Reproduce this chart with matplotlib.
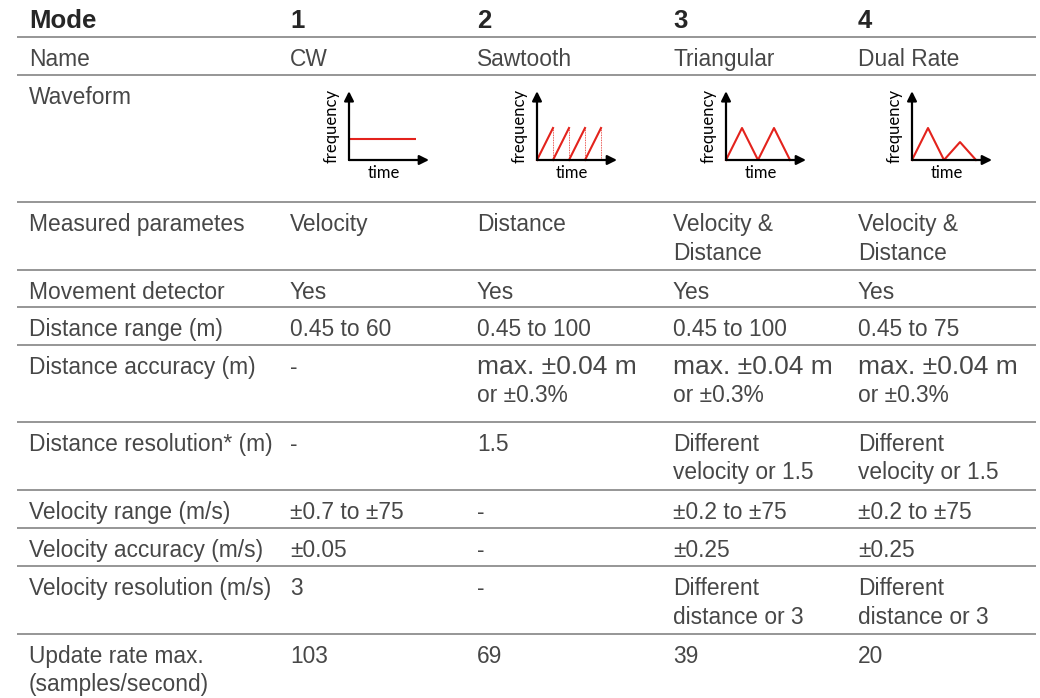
import matplotlib
matplotlib.use("Agg")
import matplotlib.pyplot as plt

# ---------------- data ----------------
header = ["Mode", "1", "2", "3", "4"]
row_labels = [
    "Name",
    "Waveform",
    "Measured parametes",
    "Movement detector",
    "Distance range (m)",
    "Distance accuracy (m)",
    "Distance resolution* (m)",
    "Velocity range (m/s)",
    "Velocity accuracy (m/s)",
    "Velocity resolution (m/s)",
    "Update rate max.\n(samples/second)",
]
mode1 = ["CW", "", "Velocity", "Yes", "0.45 to 60", "-", "-",
         "±0.7 to ±75", "±0.05", "3", "103"]
mode2 = ["Sawtooth", "", "Distance", "Yes", "0.45 to 100",
         "max. ±0.04 m\nor ±0.3%", "1.5", "-", "-", "-", "69"]
mode3 = ["Triangular", "", "Velocity &\nDistance", "Yes", "0.45 to 100",
         "max. ±0.04 m\nor ±0.3%", "Different\nvelocity or 1.5",
         "±0.2 to ±75", "±0.25", "Different\ndistance or 3", "39"]
mode4 = ["Dual Rate", "", "Velocity &\nDistance", "Yes", "0.45 to 75",
         "max. ±0.04 m\nor ±0.3%", "Different\nvelocity or 1.5",
         "±0.2 to ±75", "±0.25", "Different\ndistance or 3", "20"]

# waveform icon data (time units, frequency units)
cw_t = [0, 4.2]
cw_f = [0.66, 0.66]
saw_t = [0, 1, 2, 3, 4]
saw_peak = 1.0
tri_t = [0, 1, 2, 3, 4]
tri_f = [0, 1, 0, 1, 0]
dual_t = [0, 1, 2, 3, 4]
dual_f = [0, 1, 0, 0.56, 0]

# ---------------- layout ----------------
W, H = 1040, 698
fig = plt.figure(figsize=(W / 100, H / 100), dpi=100)
ax = fig.add_axes([0, 0, 1, 1])
ax.set_xlim(0, W)
ax.set_ylim(H, 0)
ax.axis("off")

FONT = ["Liberation Sans", "DejaVu Sans"]
TXT = "#474747"
LINE = "#8e8e8e"
col_x = [29, 290, 477, 673, 858]
row_h = [37, 38, 127, 68, 37, 38, 77, 68, 38, 38, 68, 64]
fs = 16.4
fs_big = 19.0
lead = 28.5

# header
for x, h in zip(col_x, header):
    ax.text(x, 28, h, fontsize=18.5, fontweight="bold", color="#262626",
            family=FONT, va="baseline", ha="left")

tops = [0]
for h in row_h:
    tops.append(tops[-1] + h)

columns = [row_labels, mode1, mode2, mode3, mode4]
for r in range(len(row_labels)):
    top = tops[r + 1]
    for c, col in enumerate(columns):
        txt = col[r]
        if not txt:
            continue
        base = top + 29
        for k, line in enumerate(txt.split("\n")):
            size = fs_big if line.startswith("max.") else fs
            ax.text(col_x[c], base + k * lead, line, fontsize=size,
                    color=TXT, family=FONT, va="baseline", ha="left")

# horizontal rules
for y in tops[1:-1]:
    ax.plot([17, 1036], [y, y], color=LINE, lw=1.3, solid_capstyle="butt")

# ---------------- waveform icons ----------------
ICON_FONT = ["Lato", "DejaVu Sans"]
RED = "#e3221c"
origins = [349, 537, 726, 912]
oy = 160
px_t, px_f = 16.0, 32.0


def make_icon(ox):
    left, right, below, above = 30, 92, 28, 76
    a = fig.add_axes([(ox - left) / W, (H - (oy + below)) / H,
                      (left + right) / W, (below + above) / H])
    a.set_xlim(-left / px_t, right / px_t)
    a.set_ylim(-below / px_f, above / px_f)
    a.axis("off")
    ap = dict(arrowstyle="-|>", lw=1.6, color="black", mutation_scale=14,
              shrinkA=0, shrinkB=0)
    a.annotate("", xy=(0, 2.15), xytext=(0, 0), arrowprops=ap)
    a.annotate("", xy=(5.0, 0), xytext=(0, 0), arrowprops=ap)
    a.text(-1.1, 1.06, "frequency", rotation=90, fontsize=12,
           family=ICON_FONT, color="black", ha="center", va="center")
    a.text(2.2, -0.42, "time", fontsize=12, family=ICON_FONT,
           color="black", ha="center", va="center")
    return a


a1 = make_icon(origins[0])
a1.plot(cw_t, cw_f, color=RED, lw=1.5, solid_capstyle="butt")

a2 = make_icon(origins[1])
for t0, t1 in zip(saw_t[:-1], saw_t[1:]):
    a2.plot([t0, t1], [0, saw_peak], color=RED, lw=1.5)
    a2.plot([t1, t1], [saw_peak, 0], color=RED, lw=0.6, ls=(0, (1, 1)))

a3 = make_icon(origins[2])
a3.plot(tri_t, tri_f, color=RED, lw=1.5)

a4 = make_icon(origins[3])
a4.plot(dual_t, dual_f, color=RED, lw=1.5)

fig.savefig("out.png", dpi=100)
